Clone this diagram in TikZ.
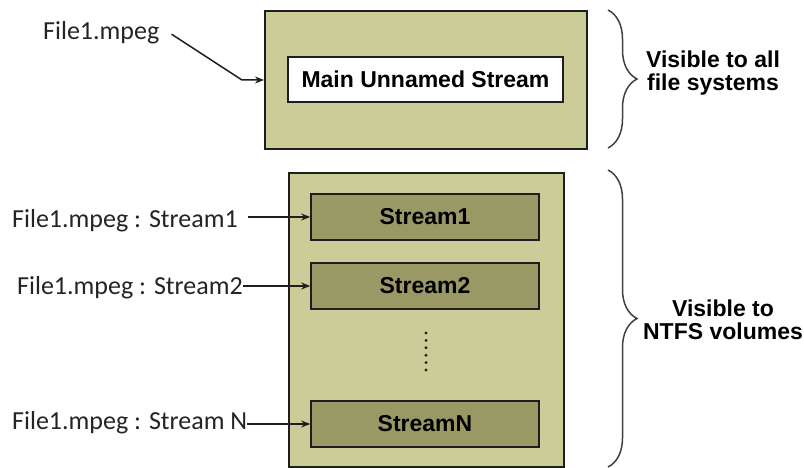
\documentclass[tikz,border=0pt]{standalone}
\usepackage{fontspec}
\setmainfont{Liberation Sans}
\newfontfamily\labelfont{Carlito}
\usetikzlibrary{arrows.meta,decorations.pathreplacing,calc}

\definecolor{filebg}{RGB}{204,204,153}
\definecolor{streambg}{RGB}{153,153,102}
\definecolor{edge}{RGB}{30,30,30}
\definecolor{labeltext}{RGB}{35,35,40}

\tikzset{
  container/.style={draw=edge, line width=1.6pt, fill=filebg, anchor=north west,
    inner sep=0pt},
  mainbox/.style={draw=edge, line width=1.6pt, fill=white, minimum width=275pt,
    minimum height=45pt, inner sep=0pt, font=\fontsize{23}{26}\selectfont\bfseries},
  streambox/.style={draw=edge, line width=1.6pt, fill=streambg, minimum width=228pt,
    minimum height=46pt, inner sep=0pt, font=\fontsize{23}{26}\selectfont\bfseries},
  pathlabel/.style={inner sep=0pt, text=labeltext,
    font=\labelfont\fontsize{26}{29}\selectfont},
  pointer/.style={draw=edge, line width=1.5pt,
    -{Stealth[length=9pt,width=7pt]}},
  scopebrace/.style={draw=edge!85, line width=1.5pt,
    decorate, decoration={brace, amplitude=29pt}},
  scopetext/.style={align=center, inner sep=0pt,
    font=\fontsize{23}{23}\selectfont\bfseries}
}

\begin{document}
\begin{tikzpicture}[x=1pt,y=-1pt]
  \useasboundingbox (0,0) rectangle (804,468);

  % upper file: the unnamed data stream
  \node[container, minimum width=322pt, minimum height=138pt] (topfile) at (264,10) {};
  \node[mainbox] (main) at (425.5,79.5) {Main Unnamed Stream};

  \node[pathlabel, anchor=base west] (f0) at (43,40) {File1.mpeg};
  \coordinate (bend) at (242,80);
  \draw[pointer] ([xshift=12pt,yshift=-1pt]f0.east) -- (bend) -- (bend -| topfile.west);

  % lower file: alternate data streams
  \node[container, minimum width=275pt, minimum height=294pt] (lowfile) at (288,172) {};
  \node[streambox] (s1) at (425,217) {Stream1};
  \node[streambox] (s2) at (425,286) {Stream2};
  \node[streambox] (sn) at (425,424) {StreamN};

  \foreach \k in {0,...,5}
    \fill[edge] (426,{333+7.4*\k}) circle (1.6pt);

  \node[pathlabel, anchor=base west] (f1) at (12,228) {File1.mpeg : Stream1};
  \node[pathlabel, anchor=base west] (f2) at (17,294) {File1.mpeg : Stream2};
  \node[pathlabel, anchor=base west] (fn) at (12,429) {File1.mpeg : Stream N};

  \draw[pointer] ([xshift=10pt]f1.east |- s1.west) -- (s1.west);
  \draw[pointer] (f2.east |- s2.west) -- (s2.west);
  \draw[pointer] (fn.east |- sn.west) -- (sn.west);

  % visibility braces
  \draw[scopebrace] (608,10) -- (608,148);
  \draw[scopebrace] (608,170) -- (608,467);

  \node[scopetext] (vis1) at (713,73) {Visible to all\\file systems};
  \node[scopetext] (vis2) at (723,320) {Visible to\\NTFS volumes};
\end{tikzpicture}
\end{document}
